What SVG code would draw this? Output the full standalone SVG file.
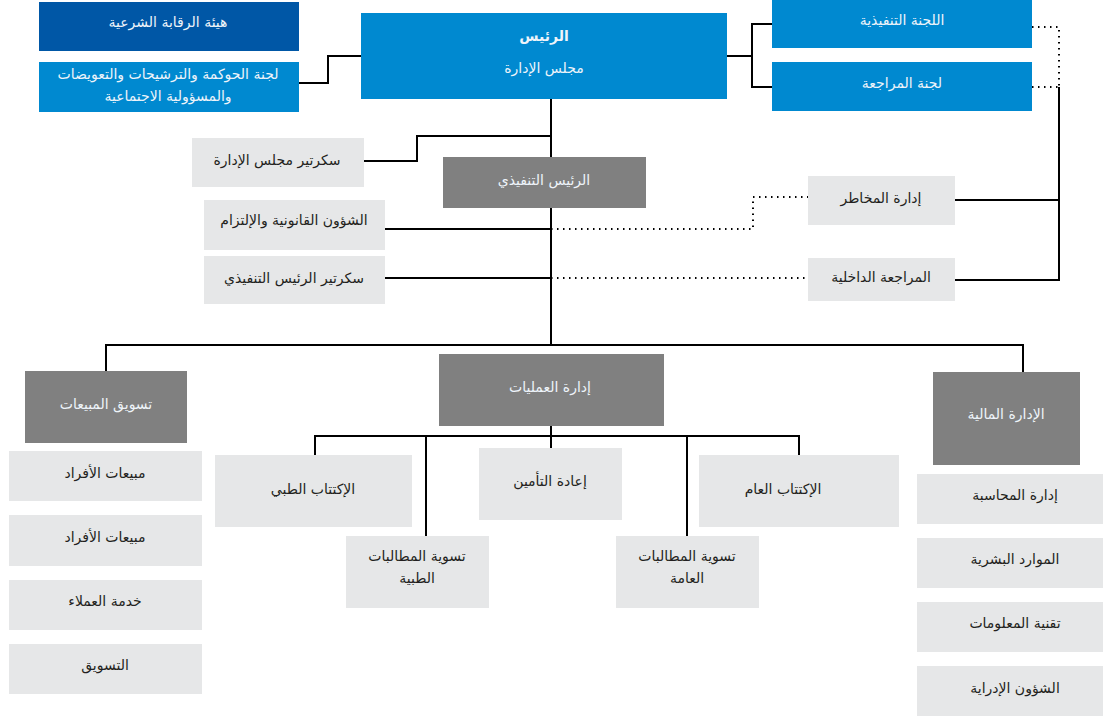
<svg xmlns="http://www.w3.org/2000/svg" width="1103" height="718" viewBox="0 0 1103 718">
<style>
.dk{fill:#0057A6}
.bl{fill:#0089D0}
.gr{fill:#808080}
.lt{fill:#E6E7E8}
text{font-family:"DejaVu Sans","Noto Sans",sans-serif;font-size:14px;text-anchor:middle;dominant-baseline:central}
.w{fill:#EEF4FA}
.k{fill:#231F20}
.b{font-weight:bold}
.ln{fill:none;stroke:#000;stroke-width:2}
.dt{fill:none;stroke:#000;stroke-width:2;stroke-dasharray:1.5 4.5}
</style>
<g id="connectors">
<polyline class="ln" points="299,83 328,83 328,56 362,56"/>
<polyline class="ln" points="727,56 752,56"/>
<polyline class="ln" points="772,24 752,24 752,87 772,87"/>
<polyline class="dt" points="1032,27 1059,27 1059,87"/>
<polyline class="dt" points="1032,87 1059,87"/>
<polyline class="ln" points="1059,87 1059,280 955,280"/>
<polyline class="ln" points="955,200 1059,200"/>
<polyline class="ln" points="551,99 551,345"/>
<polyline class="ln" points="364,161 417,161 417,136 551,136"/>
<polyline class="ln" points="385,229 551,229"/>
<polyline class="ln" points="385,278 551,278"/>
<polyline class="dt" points="551,229 753,229 753,197 808,197"/>
<polyline class="dt" points="551,278 808,278"/>
<polyline class="ln" points="106,371 106,345 1023,345 1023,372"/>
<polyline class="ln" points="551,426 551,448"/>
<polyline class="ln" points="315,455 315,436 799,436 799,455"/>
<polyline class="ln" points="426,436 426,536"/>
<polyline class="ln" points="687,436 687,536"/>
</g>
<g id="shariah"><rect class="dk" x="39" y="2" width="260" height="49"/><text class="w" x="168" y="22">هيئة الرقابة الشرعية</text></g>
<g id="governance"><rect class="bl" x="39" y="62" width="260" height="50"/><text class="w" x="168" y="74">لجنة الحوكمة والترشيحات والتعويضات</text><text class="w" x="168" y="96">والمسؤولية الاجتماعية</text></g>
<g id="chairman"><rect class="bl" x="361" y="13" width="366" height="86"/><text class="w b" x="544" y="36">الرئيس</text><text class="w" x="544" y="68">مجلس الإدارة</text></g>
<g id="exec-committee"><rect class="bl" x="772" y="0" width="260" height="48"/><text class="w" x="902" y="20">اللجنة التنفيذية</text></g>
<g id="audit-committee"><rect class="bl" x="772" y="62" width="260" height="49"/><text class="w" x="902" y="83">لجنة المراجعة</text></g>
<g id="board-secretary"><rect class="lt" x="192" y="138" width="172" height="49"/><text class="k" x="277" y="160">سكرتير مجلس الإدارة</text></g>
<g id="ceo"><rect class="gr" x="443" y="157" width="203" height="51"/><text class="w" x="544" y="180">الرئيس التنفيذي</text></g>
<g id="legal"><rect class="lt" x="204" y="200" width="181" height="50"/><text class="k" x="294" y="220">الشؤون القانونية والإلتزام</text></g>
<g id="ceo-secretary"><rect class="lt" x="204" y="256" width="181" height="48"/><text class="k" x="294" y="278">سكرتير الرئيس التنفيذي</text></g>
<g id="risk"><rect class="lt" x="808" y="176" width="147" height="49"/><text class="k" x="881" y="198">إدارة المخاطر</text></g>
<g id="internal-audit"><rect class="lt" x="808" y="258" width="147" height="43"/><text class="k" x="881" y="277">المراجعة الداخلية</text></g>
<g id="sales"><rect class="gr" x="25" y="371" width="162" height="72"/><text class="w" x="106" y="404">تسويق المبيعات</text></g>
<g id="operations"><rect class="gr" x="439" y="354" width="225" height="72"/><text class="w" x="550" y="387">إدارة العمليات</text></g>
<g id="finance"><rect class="gr" x="933" y="372" width="147" height="93"/><text class="w" x="1006" y="414">الإدارة المالية</text></g>
<g id="medical-uw"><rect class="lt" x="215" y="455" width="197" height="72"/><text class="k" x="313" y="489">الإكتتاب الطبي</text></g>
<g id="reinsurance"><rect class="lt" x="479" y="448" width="143" height="72"/><text class="k" x="550" y="481">إعادة التأمين</text></g>
<g id="general-uw"><rect class="lt" x="699" y="455" width="200" height="72"/><text class="k" x="783" y="489">الإكتتاب العام</text></g>
<g id="medical-claims"><rect class="lt" x="346" y="536" width="143" height="72"/><text class="k" x="417" y="556">تسوية المطالبات</text><text class="k" x="417" y="578">الطبية</text></g>
<g id="general-claims"><rect class="lt" x="616" y="536" width="143" height="72"/><text class="k" x="687" y="556">تسوية المطالبات</text><text class="k" x="687" y="578">العامة</text></g>
<g id="retail-sales-1"><rect class="lt" x="9" y="451" width="193" height="50"/><text class="k" x="105" y="473">مبيعات الأفراد</text></g>
<g id="retail-sales-2"><rect class="lt" x="9" y="515" width="193" height="51"/><text class="k" x="105" y="537">مبيعات الأفراد</text></g>
<g id="customer-service"><rect class="lt" x="9" y="580" width="193" height="50"/><text class="k" x="105" y="601">خدمة العملاء</text></g>
<g id="marketing"><rect class="lt" x="9" y="644" width="193" height="50"/><text class="k" x="105" y="665">التسويق</text></g>
<g id="accounting"><rect class="lt" x="917" y="474" width="186" height="50"/><text class="k" x="1015" y="495">إدارة المحاسبة</text></g>
<g id="hr"><rect class="lt" x="917" y="538" width="186" height="50"/><text class="k" x="1015" y="559">الموارد البشرية</text></g>
<g id="it"><rect class="lt" x="917" y="602" width="186" height="50"/><text class="k" x="1015" y="623">تقنية المعلومات</text></g>
<g id="admin"><rect class="lt" x="917" y="666" width="186" height="50"/><text class="k" x="1015" y="688">الشؤون الإدراية</text></g>
</svg>
